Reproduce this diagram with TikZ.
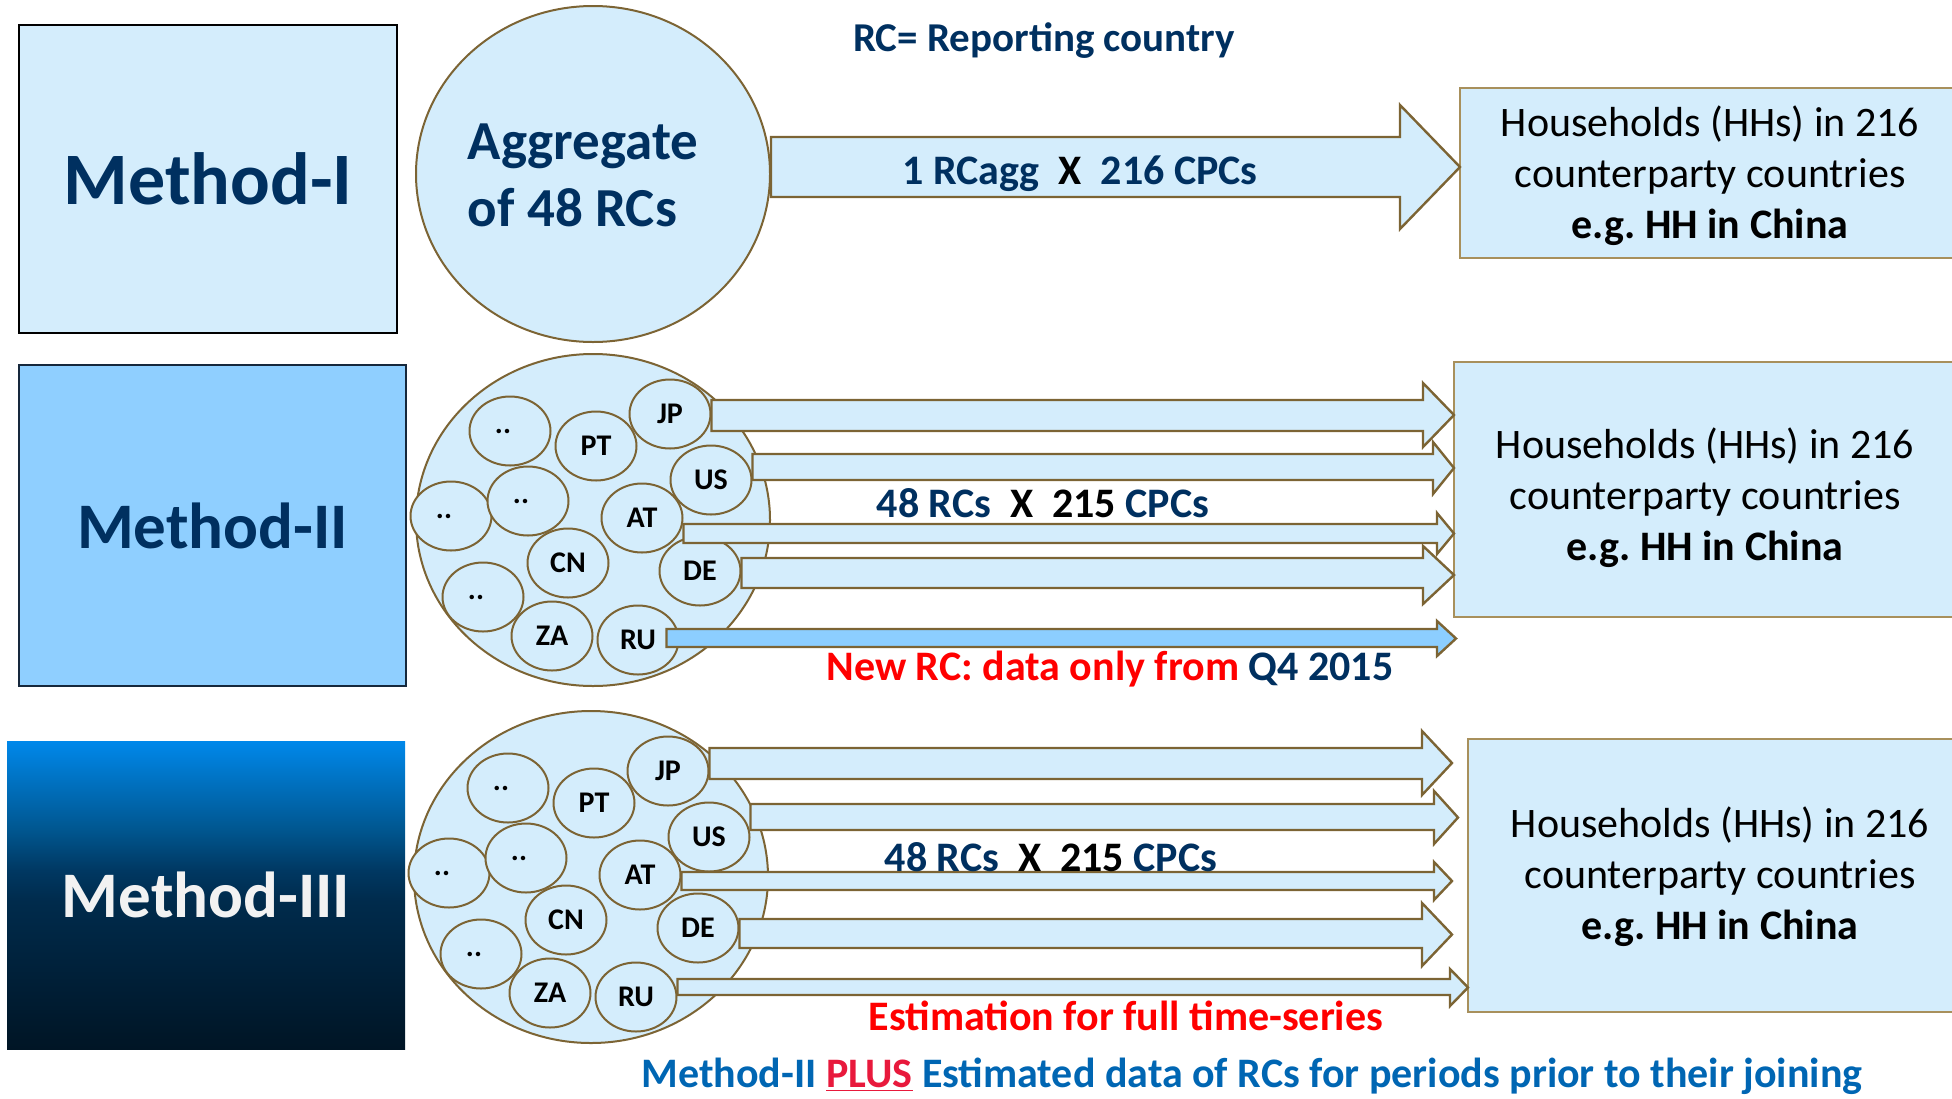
\documentclass[tikz,border=0pt]{standalone}
\usepackage{fontspec}
\setmainfont{Carlito}
\usetikzlibrary{shapes.geometric,calc}
\definecolor{lightfill}{RGB}{212,237,252}
\definecolor{brownline}{RGB}{124,100,52}
\definecolor{tanline}{RGB}{168,144,92}
\definecolor{mtwofill}{RGB}{143,207,255}
\definecolor{mtwoline}{RGB}{22,40,60}
\definecolor{rufill}{RGB}{140,206,255}
\definecolor{darkblue}{RGB}{0,48,96}
\definecolor{bblue}{RGB}{0,102,179}
\definecolor{plusred}{RGB}{232,25,60}
\definecolor{pured}{RGB}{255,0,0}
\definecolor{mthreetext}{RGB}{242,242,242}
\definecolor{mIIItop}{RGB}{0,136,234}
\definecolor{mIIIa}{RGB}{0,86,143}
\definecolor{mIIIb}{RGB}{0,56,98}
\definecolor{mIIIc}{RGB}{0,43,76}
\definecolor{mIIIbot}{RGB}{0,21,37}
\pgfdeclareverticalshading{mthree}{100bp}{color(0bp)=(mIIIbot); color(25bp)=(mIIIbot); color(49bp)=(mIIIc); color(54bp)=(mIIIb); color(60.5bp)=(mIIIa); color(75bp)=(mIIItop); color(100bp)=(mIIItop)}
\newcommand\dotlbl{..\hspace*{7pt}}
\newcommand\rcset[2]{%
 \node[rc] (da#2) at ($(#1)+(-83,-89)$) {\dotlbl};
 \node[rc] (pt#2) at ($(#1)+(3,-74)$) {PT};
 \node[rc] (jp#2) at ($(#1)+(77,-106)$) {JP};
 \node[rc] (us#2) at ($(#1)+(118,-40)$) {US};
 \node[rc] (db#2) at ($(#1)+(-142,-4)$) {\dotlbl};
 \node[rc] (dc#2) at ($(#1)+(-65,-19)$) {\dotlbl};
 \node[rc] (at#2) at ($(#1)+(49,-2)$) {AT};
 \node[rc] (cn#2) at ($(#1)+(-25,43)$) {CN};
 \node[rc] (de#2) at ($(#1)+(107,51)$) {DE};
 \node[rc] (dd#2) at ($(#1)+(-110,77)$) {\dotlbl};
 \node[rc] (za#2) at ($(#1)+(-41,116)$) {ZA};
 \node[rc] (ru#2) at ($(#1)+(45,120)$) {RU};
}
% #1 style, #2 start node, #3 shaft top, #4 shaft bottom, #5 head base x, #6 head top, #7 head bottom, #8 tip x, #9 tip y
\newcommand\barrow[9]{%
 \draw[#1] (#2 |- 0,#3) -- (#5,#3) -- (#5,#6) -- (#8,#9) -- (#5,#7) -- (#5,#4) -- (#2 |- 0,#4) -- cycle;
}
\frenchspacing
\begin{document}
\begin{tikzpicture}[x=0.5pt,y=-0.5pt,
  rc/.style={ellipse, draw=brownline, fill=lightfill, line width=1pt, minimum width=40.5pt, minimum height=34.5pt, inner sep=0pt, font=\fontsize{15}{15}\selectfont\bfseries},
  bigell/.style={ellipse, draw=brownline, fill=lightfill, line width=1pt, minimum width=177pt, minimum height=166pt, inner sep=0pt},
  arr/.style={draw=brownline, fill=lightfill, line width=1.2pt, line join=miter},
  arrru/.style={arr, fill=rufill},
  hhbox/.style={draw=tanline, fill=lightfill, line width=1pt, inner sep=0pt},
  hhtext/.style={align=center, inner sep=0pt, font=\fontsize{21}{25.5}\selectfont},
  lbl/.style={inner sep=0pt, font=\fontsize{21}{25}\selectfont\bfseries, text=darkblue},
  mlabel/.style={inner sep=0pt, font=\fontsize{32.5}{36}\selectfont\bfseries}]
\useasboundingbox (0,0) rectangle (1952,1098);
\clip (0,0) rectangle (1952,1098);

% ---------- Method I ----------
\node[draw=black, fill=lightfill, line width=1.3pt, minimum width=189pt, minimum height=154pt, inner sep=0pt,
      font=\fontsize{37}{40}\selectfont\bfseries, text=darkblue] (m1) at (208,179) {Method-I};
\node[bigell, minimum height=168pt] (agg) at (593,174) {};
\node[align=left, inner sep=0pt, text=darkblue, font=\fontsize{27.5}{33.5}\selectfont\bfseries] (aggt) at (583,175) {Aggregate\\of 48 RCs};
\node[font=\fontsize{20.5}{24}\selectfont\bfseries, text=darkblue, inner sep=0pt] (rcdef) at (1044,41) {RC= Reporting country};
\node[hhbox, minimum width=250pt, minimum height=85pt] (hh1) at (1710,173) {};
\node[hhtext] (hh1t) at (1710,176) {Households (HHs) in 216\\counterparty countries\\\textbf{e.g. HH in China}};
\barrow{arr}{agg.east}{137}{197}{1400}{105}{229}{1460}{167}
\node[lbl] (lab1) at (1080,174) {1 RCagg\ \ \textcolor{black}{X}\ \ 216 CPCs};

% ---------- Method II ----------
\node[draw=mtwoline, fill=mtwofill, line width=1.2pt, minimum width=193.5pt, minimum height=160.5pt, text=darkblue, mlabel] (m2) at (212.5,525.5) {Method-II};
\node[bigell] (ell2) at (593,520) {};
\rcset{ell2}{2}
\node[hhbox, minimum width=251pt, minimum height=127.5pt] (hh2) at (1705,489.5) {};
\node[hhtext] (hh2t) at (1705,498) {Households (HHs) in 216\\counterparty countries\\\textbf{e.g. HH in China}};
\coordinate (ruS2) at ([xshift=-6.5pt]ru2.east);
\barrow{arr}{jp2.east}{400}{431}{1423}{383}{447}{1454}{415}
\barrow{arr}{us2.east}{454}{480}{1433}{442}{494}{1454}{468}
\barrow{arr}{at2.east}{524}{543}{1437}{513}{554}{1454}{533.5}
\barrow{arr}{de2.east}{558}{588}{1423}{546}{604}{1454}{575}
\barrow{arrru}{ruS2}{629}{647}{1437}{621}{656}{1456}{638.5}
\node[lbl] (lab2) at (1043,503) {48 RCs\ \ \textcolor{black}{X\ \ 215} CPCs};
\node[inner sep=0pt, font=\fontsize{21}{25}\selectfont\bfseries, text=pured] (newrc) at (1110,669) {New RC: data only from \textcolor{darkblue}{Q4 2015}};

% ---------- Method III ----------
\node[shading=mthree, minimum width=199pt, minimum height=154pt, text=mthreetext, mlabel] (m3) at (206,895) {Method-III};
\node[bigell] (ell3) at (591,877) {};
\rcset{ell3}{3}
\node[hhbox, minimum width=252pt, minimum height=136.5pt] (hh3) at (1720,875.5) {};
\node[hhtext] (hh3t) at (1720,877) {Households (HHs) in 216\\counterparty countries\\\textbf{e.g. HH in China}};
\barrow{arr}{jp3.east}{748}{779}{1422}{731}{795}{1452}{763}
\barrow{arr}{us3.east}{804}{830}{1434}{791}{844}{1458}{817.5}
\barrow{arr}{at3.east}{872}{890}{1434}{862}{900}{1452}{881}
\barrow{arr}{de3.east}{919}{948}{1422}{903}{966}{1452}{934.5}
\barrow{arr}{ru3.east}{979}{995}{1450}{969}{1006}{1468}{987.5}
\node[lbl] (lab3) at (1051,857) {48 RCs\ \ \textcolor{black}{X\ \ 215} CPCs};
\node[inner sep=0pt, font=\fontsize{21}{25}\selectfont\bfseries, text=pured] (estim) at (1126,1016) {Estimation for full time-series};

\node[inner sep=0pt, font=\fontsize{21}{24}\selectfont\bfseries, text=bblue] (bottom) at (1252,1076) {Method-II \textcolor{plusred}{\underline{PLUS}} Estimated data of RCs for periods prior to their joining};
\end{tikzpicture}
\end{document}
